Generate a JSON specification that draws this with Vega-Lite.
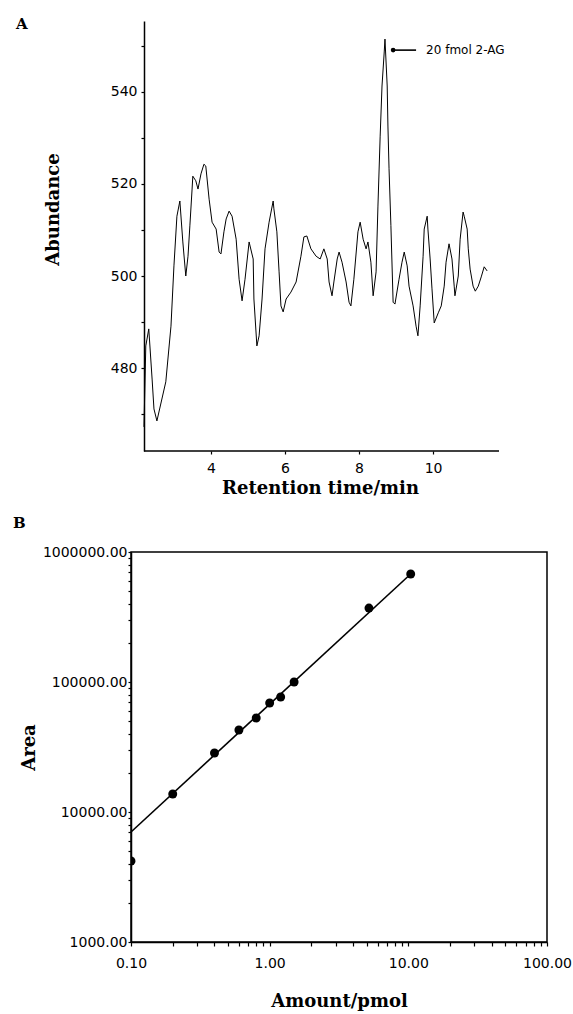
{
  "$schema": "https://vega.github.io/schema/vega-lite/v6.json",
  "background": "white",
  "padding": {"left": 12, "top": 17, "right": 0, "bottom": 0},
  "bounds": "flush",
  "spacing": 101,
  "datasets": {
    "trace": [
      {"t": 2.19, "abundance": 467.2}, {"t": 2.24, "abundance": 484.8}, {"t": 2.32, "abundance": 488.5},
      {"t": 2.41, "abundance": 477.6}, {"t": 2.46, "abundance": 471.1}, {"t": 2.54, "abundance": 468.5},
      {"t": 2.78, "abundance": 477.0}, {"t": 2.92, "abundance": 489.1}, {"t": 3.00, "abundance": 502.2},
      {"t": 3.08, "abundance": 513.0}, {"t": 3.16, "abundance": 516.3}, {"t": 3.24, "abundance": 507.4},
      {"t": 3.32, "abundance": 500.0}, {"t": 3.38, "abundance": 504.3}, {"t": 3.43, "abundance": 510.9},
      {"t": 3.49, "abundance": 518.9}, {"t": 3.51, "abundance": 521.7}, {"t": 3.59, "abundance": 520.7},
      {"t": 3.65, "abundance": 518.9}, {"t": 3.73, "abundance": 522.2}, {"t": 3.81, "abundance": 524.3},
      {"t": 3.86, "abundance": 523.9}, {"t": 3.95, "abundance": 516.7}, {"t": 4.03, "abundance": 511.7},
      {"t": 4.14, "abundance": 510.2}, {"t": 4.22, "abundance": 505.2}, {"t": 4.27, "abundance": 504.8},
      {"t": 4.35, "abundance": 509.6}, {"t": 4.41, "abundance": 512.4}, {"t": 4.49, "abundance": 514.1},
      {"t": 4.57, "abundance": 513.0}, {"t": 4.68, "abundance": 508.0}, {"t": 4.76, "abundance": 499.3},
      {"t": 4.84, "abundance": 494.6}, {"t": 4.92, "abundance": 499.3}, {"t": 5.03, "abundance": 507.4},
      {"t": 5.14, "abundance": 503.7}, {"t": 5.16, "abundance": 495.0}, {"t": 5.24, "abundance": 484.8},
      {"t": 5.30, "abundance": 487.0}, {"t": 5.38, "abundance": 495.0}, {"t": 5.46, "abundance": 505.9},
      {"t": 5.57, "abundance": 511.7}, {"t": 5.68, "abundance": 516.3}, {"t": 5.70, "abundance": 514.6},
      {"t": 5.78, "abundance": 509.6}, {"t": 5.84, "abundance": 500.9}, {"t": 5.89, "abundance": 493.5},
      {"t": 5.95, "abundance": 492.2}, {"t": 6.03, "abundance": 495.0}, {"t": 6.16, "abundance": 496.5},
      {"t": 6.30, "abundance": 498.7}, {"t": 6.43, "abundance": 504.3}, {"t": 6.51, "abundance": 508.5},
      {"t": 6.59, "abundance": 508.7}, {"t": 6.70, "abundance": 505.9}, {"t": 6.84, "abundance": 504.3},
      {"t": 6.95, "abundance": 503.7}, {"t": 7.05, "abundance": 505.9}, {"t": 7.14, "abundance": 503.7},
      {"t": 7.19, "abundance": 498.7}, {"t": 7.27, "abundance": 495.7}, {"t": 7.32, "abundance": 498.7},
      {"t": 7.41, "abundance": 503.7}, {"t": 7.46, "abundance": 505.2}, {"t": 7.54, "abundance": 503.0},
      {"t": 7.65, "abundance": 498.7}, {"t": 7.73, "abundance": 494.3}, {"t": 7.78, "abundance": 493.5},
      {"t": 7.86, "abundance": 499.3}, {"t": 7.97, "abundance": 509.6}, {"t": 8.03, "abundance": 511.7},
      {"t": 8.11, "abundance": 508.0}, {"t": 8.19, "abundance": 505.9}, {"t": 8.24, "abundance": 507.4},
      {"t": 8.32, "abundance": 503.0}, {"t": 8.38, "abundance": 495.7}, {"t": 8.46, "abundance": 500.9},
      {"t": 8.51, "abundance": 515.2}, {"t": 8.57, "abundance": 530.4}, {"t": 8.62, "abundance": 541.3},
      {"t": 8.68, "abundance": 548.7}, {"t": 8.70, "abundance": 551.5}, {"t": 8.76, "abundance": 541.3},
      {"t": 8.78, "abundance": 532.6}, {"t": 8.81, "abundance": 523.3}, {"t": 8.86, "abundance": 511.0},
      {"t": 8.92, "abundance": 494.3}, {"t": 8.97, "abundance": 493.9}, {"t": 9.08, "abundance": 499.3},
      {"t": 9.16, "abundance": 503.0}, {"t": 9.22, "abundance": 505.2}, {"t": 9.30, "abundance": 502.2},
      {"t": 9.35, "abundance": 497.8}, {"t": 9.46, "abundance": 493.5}, {"t": 9.54, "abundance": 489.1},
      {"t": 9.59, "abundance": 487.0}, {"t": 9.65, "abundance": 493.5}, {"t": 9.73, "abundance": 504.3},
      {"t": 9.76, "abundance": 510.2}, {"t": 9.84, "abundance": 513.0}, {"t": 9.86, "abundance": 510.2},
      {"t": 9.92, "abundance": 503.7}, {"t": 9.97, "abundance": 497.2}, {"t": 10.03, "abundance": 489.8},
      {"t": 10.14, "abundance": 492.0}, {"t": 10.22, "abundance": 493.5}, {"t": 10.30, "abundance": 497.8},
      {"t": 10.35, "abundance": 503.0}, {"t": 10.43, "abundance": 507.0}, {"t": 10.51, "abundance": 503.7},
      {"t": 10.57, "abundance": 497.8}, {"t": 10.59, "abundance": 495.7}, {"t": 10.68, "abundance": 500.0},
      {"t": 10.73, "abundance": 508.0}, {"t": 10.81, "abundance": 513.9}, {"t": 10.84, "abundance": 513.0},
      {"t": 10.92, "abundance": 510.2}, {"t": 10.95, "abundance": 505.9}, {"t": 11.00, "abundance": 501.5},
      {"t": 11.08, "abundance": 497.8}, {"t": 11.14, "abundance": 496.7}, {"t": 11.22, "abundance": 497.8},
      {"t": 11.30, "abundance": 499.8}, {"t": 11.38, "abundance": 502.0}, {"t": 11.46, "abundance": 501.1}
    ],
    "note": [
      {"t": 8.92, "t2": 9.54, "tx": 9.81, "abundance": 549.1, "label": "20 fmol 2-AG"}
    ],
    "calib": [
      {"amount": 0.1, "area": 4200}, {"amount": 0.2, "area": 13750}, {"amount": 0.4, "area": 28450},
      {"amount": 0.6, "area": 42760}, {"amount": 0.8, "area": 52870}, {"amount": 1.0, "area": 68900},
      {"amount": 1.2, "area": 76700}, {"amount": 1.5, "area": 100000}, {"amount": 5.2, "area": 370600},
      {"amount": 10.4, "area": 677000}
    ],
    "fit": [
      {"amount": 0.1, "area": 7020}, {"amount": 10.4, "area": 677000}
    ]
  },
  "vconcat": [
    {
      "width": 368,
      "height": 430,
      "view": {"stroke": null},
      "title": {"text": "A", "anchor": "start", "frame": "group", "dx": -115, "offset": -23, "baseline": "alphabetic", "font": "DejaVu Serif", "fontSize": 15, "fontWeight": "bold", "color": "black"},
      "layer": [
        {
          "data": {"name": "trace"},
          "mark": {"type": "line", "color": "black", "strokeWidth": 1.0},
          "encoding": {
            "x": {"field": "t", "type": "quantitative",
              "scale": {"domain": [1.84, 11.78], "nice": false, "zero": false},
              "axis": {"title": "Retention time/min", "values": [4, 6, 8, 10], "domain": false, "tickSize": 3, "labelPadding": 7, "titlePadding": 4, "titleX": 189, "labelFlush": false}},
            "y": {"field": "abundance", "type": "quantitative",
              "scale": {"domain": [461.96, 555.43], "nice": false, "zero": false},
              "axis": {"title": "Abundance", "offset": -13, "values": [470, 480, 490, 500, 510, 520, 530, 540, 550], "labelExpr": "datum.value % 20 == 0 ? datum.label : ''", "tickSize": 3, "labelPadding": 4, "titlePadding": 48, "titleY": 188, "labelOverlap": false}}
          }
        },
        {
          "data": {"values": [{}]},
          "mark": {"type": "rule", "color": "black", "strokeWidth": 1.5},
          "encoding": {
            "x": {"datum": 2.19, "type": "quantitative"},
            "x2": {"datum": 11.78},
            "y": {"datum": 461.96, "type": "quantitative"}
          }
        },
        {
          "data": {"name": "note"},
          "mark": {"type": "rule", "color": "black", "strokeWidth": 1.6},
          "encoding": {
            "x": {"field": "t", "type": "quantitative"},
            "x2": {"field": "t2"},
            "y": {"field": "abundance", "type": "quantitative"}
          }
        },
        {
          "data": {"name": "note"},
          "mark": {"type": "point", "shape": "circle", "filled": true, "color": "black", "size": 22, "opacity": 1},
          "encoding": {
            "x": {"field": "t", "type": "quantitative"},
            "y": {"field": "abundance", "type": "quantitative"}
          }
        },
        {
          "data": {"name": "note"},
          "mark": {"type": "text", "align": "left", "baseline": "middle", "font": "DejaVu Sans", "fontSize": 12, "color": "black"},
          "encoding": {
            "x": {"field": "tx", "type": "quantitative"},
            "y": {"field": "abundance", "type": "quantitative"},
            "text": {"field": "label"}
          }
        }
      ]
    },
    {
      "width": 416,
      "height": 390,
      "view": {"stroke": "black", "strokeWidth": 1.5},
      "title": {"text": "B", "anchor": "start", "frame": "group", "dx": -118, "offset": 2, "baseline": "alphabetic", "font": "DejaVu Serif", "fontSize": 15, "fontWeight": "bold", "color": "black"},
      "layer": [
        {
          "data": {"name": "fit"},
          "mark": {"type": "line", "color": "black", "strokeWidth": 1.6},
          "encoding": {
            "x": {"field": "amount", "type": "quantitative",
              "scale": {"type": "log", "domain": [0.1, 100], "nice": false},
              "axis": {"title": "Amount/pmol", "values": [0.1, 0.2, 0.3, 0.4, 0.5, 0.6, 0.7, 0.8, 0.9, 1, 2, 3, 4, 5, 6, 7, 8, 9, 10, 20, 30, 40, 50, 60, 70, 80, 90, 100],
                "labelExpr": "indexof([0.1, 1, 10, 100], datum.value) >= 0 ? format(datum.value, '.2f') : ''",
                "labelOverlap": false, "labelFlush": false, "tickSize": 4, "labelPadding": 10, "titlePadding": 22}},
            "y": {"field": "area", "type": "quantitative",
              "scale": {"type": "log", "domain": [1000, 1000000], "nice": false},
              "axis": {"title": "Area", "values": [1000, 2000, 3000, 4000, 5000, 6000, 7000, 8000, 9000, 10000, 20000, 30000, 40000, 50000, 60000, 70000, 80000, 90000, 100000, 200000, 300000, 400000, 500000, 600000, 700000, 800000, 900000, 1000000],
                "labelExpr": "indexof([1000, 10000, 100000, 1000000], datum.value) >= 0 ? format(datum.value, '.2f') : ''",
                "labelOverlap": false, "labelFlush": false, "tickSize": 3, "labelPadding": 1, "titlePadding": 4}}
          }
        },
        {
          "data": {"name": "calib"},
          "mark": {"type": "point", "shape": "circle", "filled": true, "color": "black", "size": 80, "opacity": 1, "clip": true},
          "encoding": {
            "x": {"field": "amount", "type": "quantitative"},
            "y": {"field": "area", "type": "quantitative"}
          }
        }
      ]
    }
  ],
  "config": {
    "font": "DejaVu Sans",
    "view": {"stroke": null},
    "axis": {
      "grid": false,
      "domainColor": "black",
      "domainWidth": 1.5,
      "tickColor": "black",
      "tickWidth": 1.2,
      "labelColor": "black",
      "labelFont": "DejaVu Sans",
      "labelFontSize": 14,
      "titleColor": "black",
      "titleFont": "DejaVu Serif",
      "titleFontSize": 18,
      "titleFontWeight": "bold"
    }
  }
}
